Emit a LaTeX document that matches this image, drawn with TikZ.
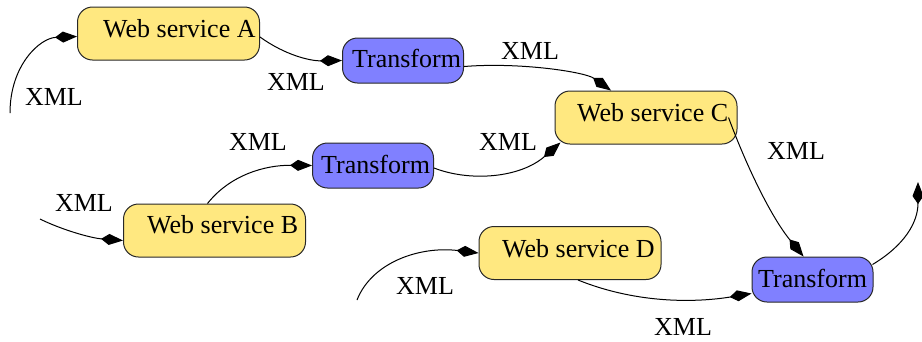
\documentclass[tikz,border=0pt]{standalone}
\usepackage{fontspec}
\setmainfont{Liberation Serif}
\newfontfamily\diagserif{Liberation Serif}
\usetikzlibrary{arrows.meta,calc}
\definecolor{wsyellow}{RGB}{255,232,128}
\definecolor{trblue}{RGB}{128,128,255}
\definecolor{edgegray}{RGB}{40,40,40}
\tikzset{
  boxbase/.style={draw=edgegray, line width=1pt, rounded corners=15pt, inner sep=0pt},
  wsbox/.style={boxbase, fill=wsyellow, minimum width=182pt, minimum height=53pt},
  trbox/.style={boxbase, fill=trblue, minimum width=121pt, minimum height=45pt},
  boxtext/.style={anchor=base west, inner sep=0pt, font=\diagserif\fontsize{26}{30}\selectfont},
  xmllabel/.style={anchor=center, inner sep=0pt, font=\diagserif\fontsize{26}{30}\selectfont},
  flow/.style={draw=black, line width=1pt, -{Kite[length=22pt,width=11pt,inset=8pt]}},
}
\begin{document}
\begin{tikzpicture}[x=1pt,y=-1pt]
\path[use as bounding box] (0,0) rectangle (922,341);
% boxes
\node[wsbox] (A) at (168.5,33.5) {};
\node[trbox] (T1) at (403,60.5) {};
\node[wsbox] (C) at (646,117.5) {};
\node[trbox] (T2) at (373,165.5) {};
\node[wsbox] (B) at (214.5,230.5) {};
\node[wsbox] (D) at (570,253) {};
\node[trbox] (T3) at (812.5,279.5) {};
% box texts
\node[boxtext] (At) at (103,37) {Web service A};
\node[boxtext] (T1t) at (352,67) {Transform};
\node[boxtext] (Ct) at (577,121) {Web service C};
\node[boxtext] (T2t) at (321,173) {Transform};
\node[boxtext] (Bt) at (147,233) {Web service B};
\node[boxtext] (Dt) at (502,257) {Web service D};
\node[boxtext] (T3t) at (758,287) {Transform};
% free ends
\coordinate (inA) at (10,113);
\coordinate (inB) at (40,219);
\coordinate (inD) at (357,300);
\coordinate (outT) at (918,182);
% connectors
\draw[flow] (inA) .. controls (10,65) and (40,38) .. ($(A.west)+(0,3)$);
\draw[flow] ($(A.east)+(0,3.5)$) .. controls (285,55) and (310,61) .. (T1.west);
\draw[flow] ($(T1.east)+(0,6)$) .. controls (520,62) and (585,72) .. ($(C.north)+(-35,0)$);
\draw[flow] ($(T2.east)+(0,2.5)$) .. controls (470,182) and (520,178) .. ($(C.south west)+(6,-2)$);
\draw[flow] ($(B.north)+(-7,0)$) .. controls (230,175) and (265,165) .. (T2.west);
\draw[flow] (inB) .. controls (60,229) and (90,238) .. ($(B.west)+(0,10)$);
\draw[flow] (inD) .. controls (372,262) and (420,246) .. (D.west);
\draw[flow] ($(D.south)+(8,0)$) .. controls (640,305) and (700,302) .. ($(T3.west)+(0,14)$);
\draw[flow] ($(C.east)+(-9,0)$) .. controls (748,170) and (772,218) .. ($(T3.north)+(-9,0)$);
\draw[flow] ($(T3.north east)+(-1,8)$) .. controls (905,245) and (918,222) .. (outT);
% labels
\node[xmllabel] (x1) at (54,97) {XML};
\node[xmllabel] (x2) at (296,82) {XML};
\node[xmllabel] (x3) at (530,51) {XML};
\node[xmllabel] (x4) at (508,142) {XML};
\node[xmllabel] (x5) at (258,142) {XML};
\node[xmllabel] (x6) at (84,203) {XML};
\node[xmllabel] (x7) at (425,286) {XML};
\node[xmllabel] (x8) at (683,327) {XML};
\node[xmllabel] (x9) at (796,151) {XML};
\end{tikzpicture}
\end{document}
